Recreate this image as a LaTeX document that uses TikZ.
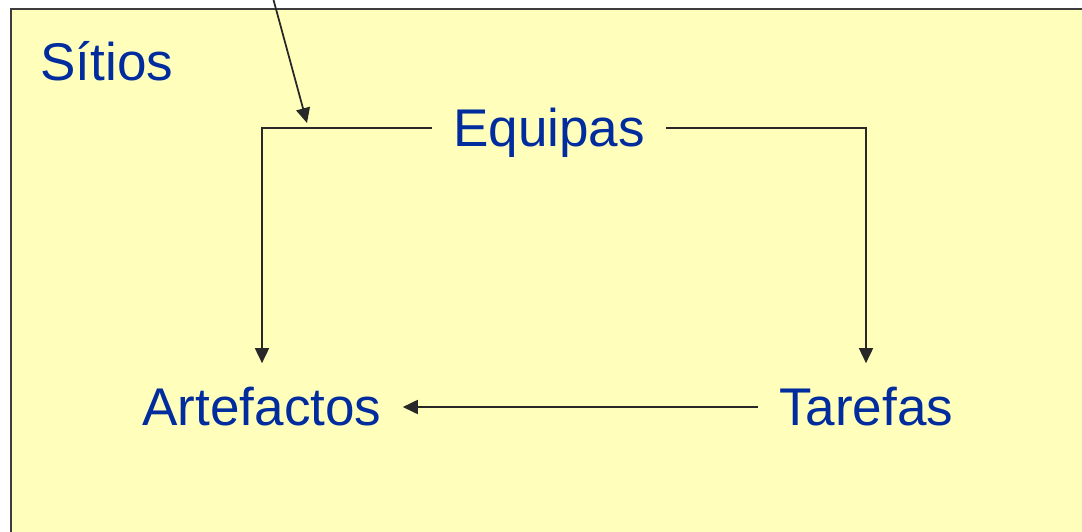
\documentclass[tikz,border=0pt]{standalone}
\usepackage{fontspec}
\setmainfont{Liberation Sans}
\usetikzlibrary{arrows.meta, positioning}
\definecolor{siteyellow}{RGB}{255,255,187}
\definecolor{labelblue}{RGB}{0,44,158}
\definecolor{edgegray}{RGB}{40,40,40}

\begin{document}
\begin{tikzpicture}[
    x=0.02cm, y=-0.02cm,
    word/.style={text=labelblue, inner xsep=0.42cm, inner ysep=0.5cm, text height=0.74cm, text depth=0cm, font=\fontsize{30.2}{36}\selectfont},
    link/.style={draw=edgegray, line width=1pt},
    >={Triangle[length=0.3cm, width=0.28cm]},
]
    \useasboundingbox (0,0) rectangle (1082,531);
    \draw[fill=siteyellow, draw=edgegray!90!white, line width=1.2pt] (11,9) rectangle (1100,560);

    \node[word, anchor=base west, inner sep=0pt] (sitios) at (40,80) {Sítios};
    \node[word] (equipas)    at (549,128) {Equipas};
    \node[word] (artefactos) at (262,407) {Artefactos};
    \node[word] (tarefas)    at (866,407) {Tarefas};
    \coordinate (feedin)  at (273,-2);
    \coordinate (feedtip) at (307,123);

    \draw[link, ->] (equipas) -| (artefactos);
    \draw[link, ->] (equipas) -| (tarefas);
    \draw[link, ->] (tarefas) -- (artefactos);
    \draw[link, ->] (feedin)  -- (feedtip);
\end{tikzpicture}
\end{document}
